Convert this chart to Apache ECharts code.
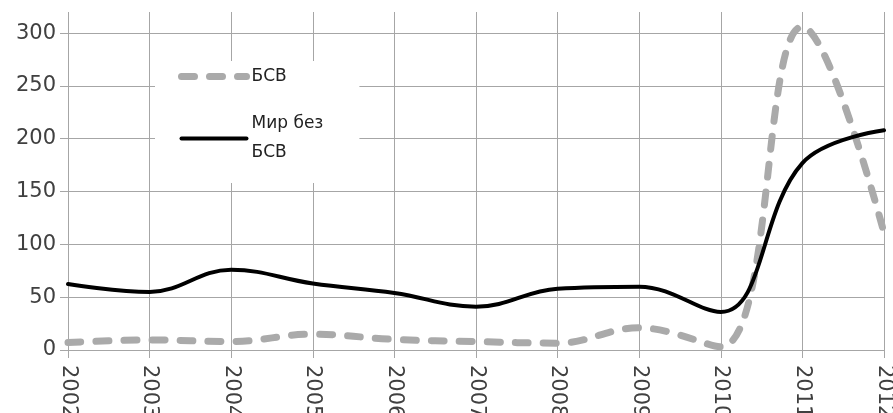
<!DOCTYPE html>
<html>
<head>
<meta charset="utf-8">
<script src="https://cdn.jsdelivr.net/npm/echarts@6/dist/echarts.min.js"></script>
<style>
    html, body { margin: 0; padding: 0; background: #fff; }
    #chart { width: 893px; height: 413px; }
</style>
</head>
<body>
<div id="chart"></div>
<script>
    // годы
    var years = ['2002', '2003', '2004', '2005', '2006', '2007', '2008', '2009', '2010', '2011', '2012'];
    // БСВ
    var bsvData = [7, 9.5, 8, 15, 10, 8, 6.5, 21, 3, 306, 111];
    // Мир без БСВ
    var worldData = [62.5, 55, 76, 63, 54, 41, 58, 60, 36, 177, 208];
    var yTicks = [0, 50, 100, 150, 200, 250, 300];

    var gridColor = '#a6a6a6';
    var textColor = '#404040';
    var font = 'DejaVu Sans';
    var bsvLine = {color: '#aaaaaa', width: 7, type: [13, 15], cap: 'round'};
    var worldLine = {color: '#000', width: 4, type: 'solid', cap: 'round'};

    var option = {
        animation: false,
        backgroundColor: '#fff',
        grid: [
            {left: 68, right: 9, top: 12, bottom: 63, outerBoundsMode: 'none'},      // серии + вертикальная сетка
            {left: 68, right: 9, top: 33.1, bottom: 63, outerBoundsMode: 'none'}     // горизонтальная сетка 0..300
        ],
        legend: {
            orient: 'vertical',
            left: 155,
            top: 61,
            padding: [1, 36, 1, 23],
            backgroundColor: '#fff',
            itemWidth: 65,
            itemHeight: 14,
            itemGap: 4,
            itemStyle: {opacity: 0},
            textStyle: {fontFamily: font, fontSize: 17, color: '#222', lineHeight: 29},
            formatter: function (name) {
                return name.replace('без ', 'без\n');
            },
            data: [
                {name: 'БСВ', lineStyle: bsvLine},
                {name: 'Мир без БСВ', lineStyle: worldLine, textStyle: {padding: [29, 0, 0, 0]}}
            ]
        },
        xAxis: [
            {
                gridIndex: 0,
                type: 'category',
                boundaryGap: false,
                data: years,
                axisLine: {lineStyle: {color: gridColor, width: 1}},
                axisTick: {show: true, length: 8, lineStyle: {color: gridColor}},
                splitLine: {show: true, lineStyle: {color: gridColor, width: 1}},
                axisLabel: {
                    rotate: -90,
                    margin: 15,
                    color: textColor,
                    fontFamily: font,
                    fontSize: 21
                }
            },
            {gridIndex: 1, type: 'category', boundaryGap: false, data: years, show: false}
        ],
        yAxis: [
            {gridIndex: 0, type: 'value', min: 0, max: 320, show: false},
            {
                gridIndex: 1,
                type: 'value',
                min: yTicks[0],
                max: yTicks[yTicks.length - 1],
                interval: 50,
                axisLine: {show: false},
                axisTick: {show: true, length: 8, lineStyle: {color: gridColor}},
                splitLine: {show: true, lineStyle: {color: gridColor, width: 1}},
                axisLabel: {margin: 12, color: textColor, fontFamily: font, fontSize: 21}
            }
        ],
        series: [
            {
                name: 'БСВ',
                type: 'line',
                xAxisIndex: 0,
                yAxisIndex: 0,
                data: bsvData,
                smooth: 0.4,
                symbol: 'none',
                clip: true,
                itemStyle: {color: '#aaaaaa'},
                lineStyle: bsvLine,
                z: 3
            },
            {
                name: 'Мир без БСВ',
                type: 'line',
                xAxisIndex: 0,
                yAxisIndex: 0,
                data: worldData,
                smooth: 0.4,
                symbol: 'none',
                clip: true,
                itemStyle: {color: '#000'},
                lineStyle: worldLine,
                z: 4
            }
        ]
    };

    var myChart = echarts.init(document.getElementById('chart'));
    myChart.setOption(option);
</script>
</body>
</html>
